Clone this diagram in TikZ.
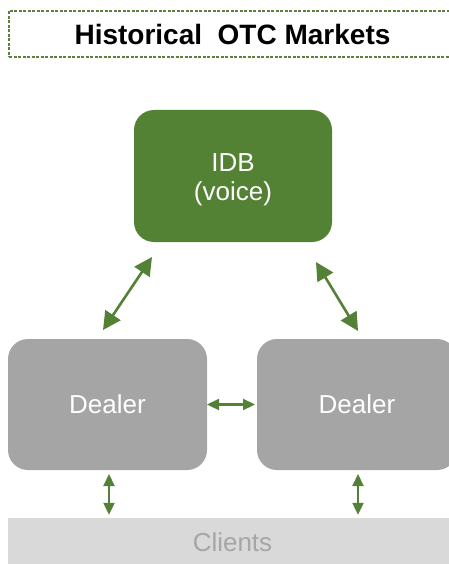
\documentclass[tikz,border=0pt]{standalone}
\usepackage{fontspec}
\setmainfont{Liberation Sans}
\usetikzlibrary{arrows.meta,calc}
\definecolor{idbgreen}{HTML}{548235}
\definecolor{arrowgreen}{HTML}{538135}
\definecolor{dealergray}{HTML}{A5A5A5}
\definecolor{clientgray}{HTML}{D9D9D9}
\definecolor{clienttext}{HTML}{A6A6A6}
\definecolor{titleframe}{HTML}{5E7F3E}
\tikzset{
  x=1pt, y=-1pt,
  boxnode/.style={rounded corners=20pt, inner sep=0pt, outer sep=0pt, align=center,
    text=white, font=\fontsize{26}{29}\selectfont},
  bigarrow/.style={draw=arrowgreen, line width=2.6pt,
    {Triangle[length=18pt,width=18pt]}-{Triangle[length=18pt,width=18pt]}},
  smallarrow/.style={draw=arrowgreen, line width=2.2pt,
    {Triangle[length=12pt,width=11pt]}-{Triangle[length=12pt,width=11pt]}},
}
\begin{document}
\begin{tikzpicture}
\useasboundingbox (0,0) rectangle (449,564);
\clip (0,0) rectangle (449,564);
% title
\node[draw=titleframe, dash pattern=on 3pt off 1.5pt, line width=1.1pt, inner sep=0pt, minimum width=447pt, minimum height=46pt,
  font=\fontsize{28}{32}\bfseries\selectfont] (title) at (232.5,34) {Historical\ \ OTC Markets};
% boxes
\node[boxnode, fill=idbgreen, minimum width=198pt, minimum height=132pt,
  label={[yshift=-4pt, text=white, align=center, font=\fontsize{26}{29}\selectfont]center:IDB\\(voice)}] (idb) at (233,176) {};
\node[boxnode, fill=dealergray, minimum width=199pt, minimum height=131pt] (dl) at (107.5,404.5) {Dealer};
\node[boxnode, fill=dealergray, minimum width=200pt, minimum height=131pt] (dr) at (357,404.5) {Dealer};
\node[fill=clientgray, inner sep=0pt, minimum width=449pt, minimum height=48pt, text=clienttext,
  font=\fontsize{26}{29}\selectfont] (cl) at (232.5,542) {Clients};
% connectors
\draw[bigarrow] ([shift={(18,15)}]idb.south west) -- ([shift={(-4.5,-9)}]dl.north);
\draw[bigarrow] ([shift={(-16,20)}]idb.south east) -- ([shift={(1,-8)}]dr.north);
\draw[smallarrow] (dl.east) -- ([xshift=-2pt]dr.west);
\draw[smallarrow] ($(dl.south)+(1.5,4)$) -- ($(dl.south |- cl.north)+(1.5,-3)$);
\draw[smallarrow] ($(dr.south)+(1,4)$) -- ($(dr.south |- cl.north)+(1,-3)$);
\end{tikzpicture}
\end{document}
